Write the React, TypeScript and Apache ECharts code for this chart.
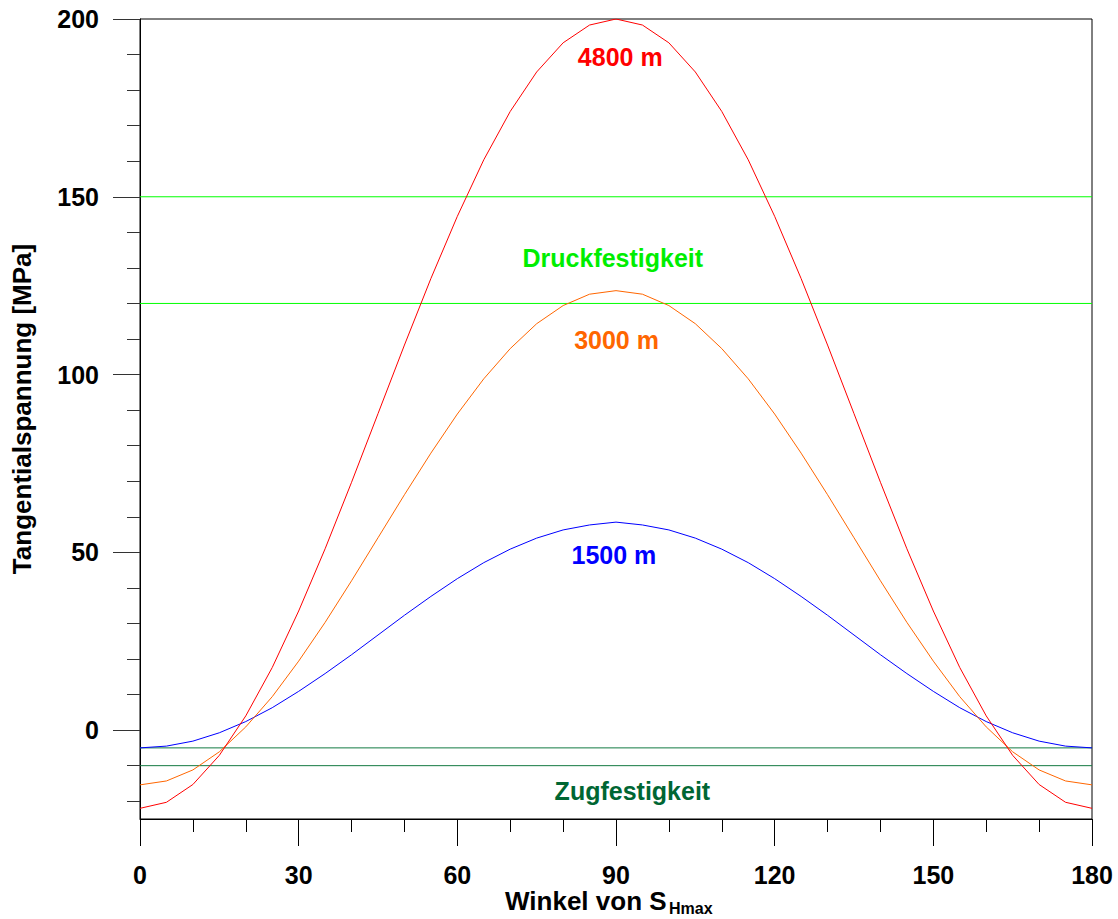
import React, { useEffect, useRef } from "react";
import * as echarts from "echarts";

const angles = [0, 5, 10, 15, 20, 25, 30, 35, 40, 45, 50, 55, 60, 65, 70, 75, 80, 85, 90, 95, 100, 105, 110, 115, 120, 125, 130, 135, 140, 145, 150, 155, 160, 165, 170, 175, 180];
const depth4800 = [-22, -20.3, -15.3, -7.1, 4.0, 17.6, 33.5, 51.0, 69.7, 89, 108.3, 127.0, 144.5, 160.4, 174.0, 185.1, 193.3, 198.3, 200, 198.3, 193.3, 185.1, 174.0, 160.4, 144.5, 127.0, 108.3, 89, 69.7, 51.0, 33.5, 17.6, 4.0, -7.1, -15.3, -20.3, -22];
const depth3000 = [-15.4, -14.3, -11.2, -6.1, 0.9, 9.4, 19.4, 30.3, 42.0, 54.1, 66.2, 77.9, 88.9, 98.8, 107.3, 114.3, 119.4, 122.6, 123.6, 122.6, 119.4, 114.3, 107.3, 98.8, 88.9, 77.9, 66.2, 54.1, 42.0, 30.3, 19.4, 9.4, 0.9, -6.1, -11.2, -14.3, -15.4];
const depth1500 = [-5, -4.5, -3.1, -0.75, 2.4, 6.3, 10.9, 15.9, 21.2, 26.75, 32.3, 37.6, 42.6, 47.1, 50.9, 54.0, 56.3, 57.7, 58.5, 57.7, 56.3, 54.0, 50.9, 47.1, 42.6, 37.6, 32.3, 26.75, 21.2, 15.9, 10.9, 6.3, 2.4, -0.75, -3.1, -4.5, -5];
const druckfestigkeit = [150, 120];
const zugfestigkeit = [-5, -10];
const yMajorTicks = [0, 50, 100, 150, 200];
const yMinorTicks = [-20, -10, 10, 20, 30, 40, 60, 70, 80, 90, 110, 120, 130, 140, 160, 170, 180, 190];
const labelTexts = ["4800 m", "Druckfestigkeit", "3000 m", "1500 m", "Zugfestigkeit"];
const labelX = [90.8, 89.4, 90.1, 89.6, 93.1];
const labelY = [189.3, 132.7, 109.6, 49.2, -17.1];
const labelColors = ["#ff0000", "#00ee00", "#ff6600", "#0000ff", "#006633"];

const FONT = "'Liberation Sans', Arial, sans-serif";

export default function App() {
  const ref = useRef<HTMLDivElement>(null);
  useEffect(() => {
    document.body.style.margin = "0";
    const chart = echarts.init(ref.current!, null, { renderer: "svg" });
    const pair = (ys: number[]) => angles.map((a, i) => [a, ys[i]]);
    const hline = (v: number, color: string) => ({
      type: "line",
      data: [[angles[0], v], [angles[angles.length - 1], v]],
      symbol: "none",
      lineStyle: { color, width: 1 },
      silent: true,
    });
    chart.setOption({
      animation: false,
      backgroundColor: "#ffffff",
      grid: { left: 140, right: 26, top: 19, bottom: 100, show: true, borderColor: "#000", borderWidth: 1 },
      xAxis: {
        type: "value",
        min: 0,
        max: 180,
        interval: 30,
        axisLine: { show: true, onZero: false, lineStyle: { color: "#000", width: 1 } },
        axisTick: { show: true, length: 27, lineStyle: { color: "#000" } },
        minorTick: { show: true, splitNumber: 3, length: 13, lineStyle: { color: "#000" } },
        splitLine: { show: false },
        axisLabel: { fontFamily: FONT, fontWeight: "bold", fontSize: 25, color: "#000", margin: 43 },
      },
      yAxis: [
        {
          type: "value",
          min: -25,
          max: 200,
          position: "left",
          axisLine: { show: true, onZero: false, lineStyle: { color: "#000", width: 1 } },
          axisTick: { show: true, length: 27, customValues: yMajorTicks, lineStyle: { color: "#333" } },
          splitLine: { show: false },
          axisLabel: { customValues: yMajorTicks, fontFamily: FONT, fontWeight: "bold", fontSize: 25, color: "#000", margin: 41 },
        },
        {
          type: "value",
          min: -25,
          max: 200,
          position: "left",
          axisLine: { show: false, onZero: false },
          axisTick: { show: true, length: 13, customValues: yMinorTicks, lineStyle: { color: "#333" } },
          splitLine: { show: false },
          axisLabel: { show: false },
        },
      ],
      series: [
        ...druckfestigkeit.map((v) => hline(v, "#00ff00")),
        ...zugfestigkeit.map((v) => hline(v, "#137a42")),
        { type: "line", data: pair(depth1500), symbol: "none", lineStyle: { color: "#0000ff", width: 1 }, silent: true },
        { type: "line", data: pair(depth3000), symbol: "none", lineStyle: { color: "#ff6600", width: 1 }, silent: true },
        { type: "line", data: pair(depth4800), symbol: "none", lineStyle: { color: "#ff0000", width: 1 }, silent: true },
        {
          type: "scatter",
          symbolSize: 0,
          silent: true,
          itemStyle: { opacity: 1 },
          data: labelTexts.map((t, i) => ({
            name: t,
            value: [labelX[i], labelY[i]],
            itemStyle: { opacity: 1 },
            label: {
              show: true,
              position: "inside",
              formatter: "{b}",
              fontFamily: FONT,
              fontWeight: "bold",
              fontSize: 25,
              color: labelColors[i],
              opacity: 1,
              textBorderWidth: 0,
              textBorderColor: "transparent",
            },
          })),
        },
      ],
      graphic: [
        {
          type: "text",
          x: 22,
          y: 409,
          rotation: Math.PI / 2,
          style: {
            text: "Tangentialspannung [MPa]",
            fontFamily: FONT,
            fontWeight: "bold",
            fontSize: 26,
            fill: "#000",
            align: "center",
            verticalAlign: "middle",
          },
        },
        {
          type: "text",
          x: 505,
          y: 901,
          style: {
            text: "Winkel von S",
            fontFamily: FONT,
            fontWeight: "bold",
            fontSize: 26,
            fill: "#000",
            align: "left",
            verticalAlign: "middle",
          },
        },
        {
          type: "text",
          x: 669,
          y: 908,
          style: {
            text: "Hmax",
            fontFamily: FONT,
            fontWeight: "bold",
            fontSize: 16,
            fill: "#000",
            align: "left",
            verticalAlign: "middle",
          },
        },
      ],
    });
    return () => chart.dispose();
  }, []);
  return <div ref={ref} style={{ width: 1118, height: 919 }} />;
}
